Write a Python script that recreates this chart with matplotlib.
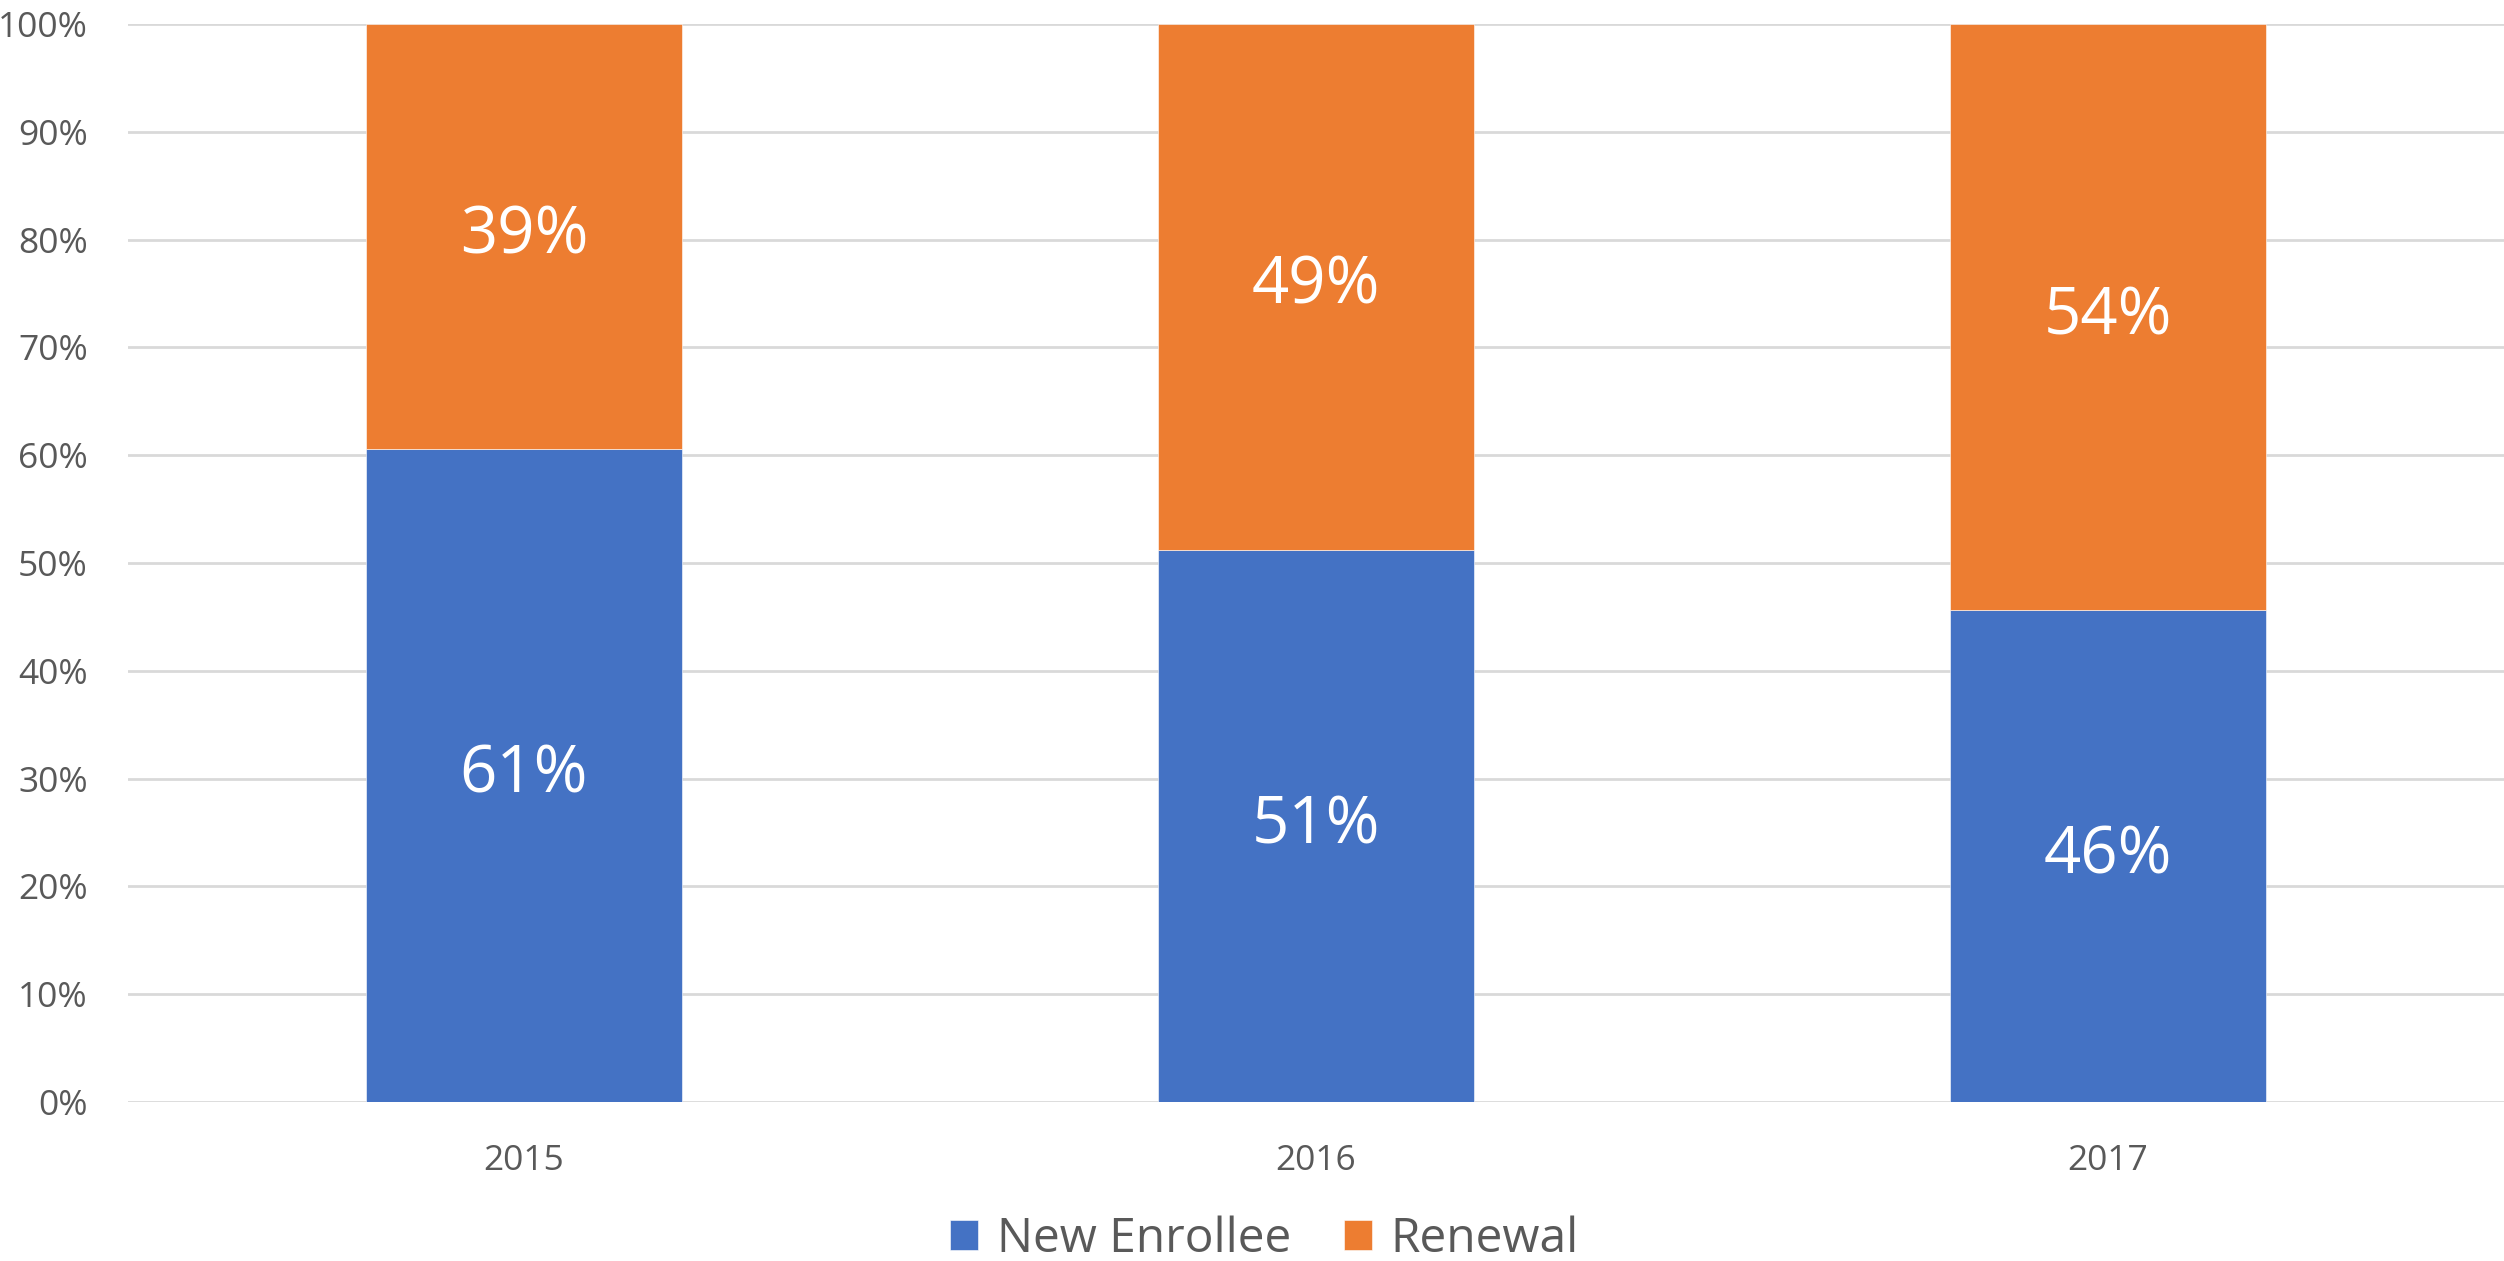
import numpy as np
import matplotlib.pyplot as plt
from matplotlib.ticker import PercentFormatter

# data (percent of enrollment)
years = ['2015', '2016', '2017']
new_enrollee = [60.6, 51.2, 45.6]
renewal = [39.4, 48.8, 54.4]

blue = '#4472C4'
orange = '#ED7D31'
gray = '#595959'

plt.rcParams['font.family'] = ['Open Sans', 'DejaVu Sans']

fig = plt.figure(figsize=(25.04, 12.61), dpi=100)
ax = fig.add_axes([0.0511, 0.1261, 0.9489, 0.8549])

x = np.arange(len(years))
width = 0.4
b1 = ax.bar(x, new_enrollee, width, color=blue, label='New Enrollee',
            edgecolor='white', linewidth=0.4, zorder=3)
b2 = ax.bar(x, renewal, width, bottom=new_enrollee, color=orange, label='Renewal',
            edgecolor='white', linewidth=0.4, zorder=3)

# data labels
for bars in (b1, b2):
    for rect in bars:
        h = rect.get_height()
        ax.text(rect.get_x() + rect.get_width() / 2, rect.get_y() + h / 2,
                f'{round(h):.0f}%', ha='center', va='center',
                color='white', fontsize=47, zorder=4)

ax.set_xlim(-0.5, 2.5)
ax.set_ylim(0, 100)
ax.set_yticks(np.arange(0, 101, 10))
ax.yaxis.set_major_formatter(PercentFormatter(decimals=0))
ax.set_xticks(x)
ax.set_xticklabels(years)

ax.grid(axis='y', color='#D9D9D9', linewidth=2, zorder=0)
for s in ['top', 'right', 'left', 'bottom']:
    ax.spines[s].set_visible(False)
ax.tick_params(axis='both', length=0, colors=gray)
ax.tick_params(axis='y', labelsize=25.5, pad=29)
ax.tick_params(axis='x', labelsize=25.5, pad=30)

fig.legend(handles=[b1, b2], loc='center', bbox_to_anchor=(0.505, 0.0174),
           ncol=2, frameon=False, fontsize=34.5, labelcolor=gray,
           handlelength=0.58, handleheight=0.58, handletextpad=0.4,
           columnspacing=1.1)

fig.savefig('out.png', dpi=100)
